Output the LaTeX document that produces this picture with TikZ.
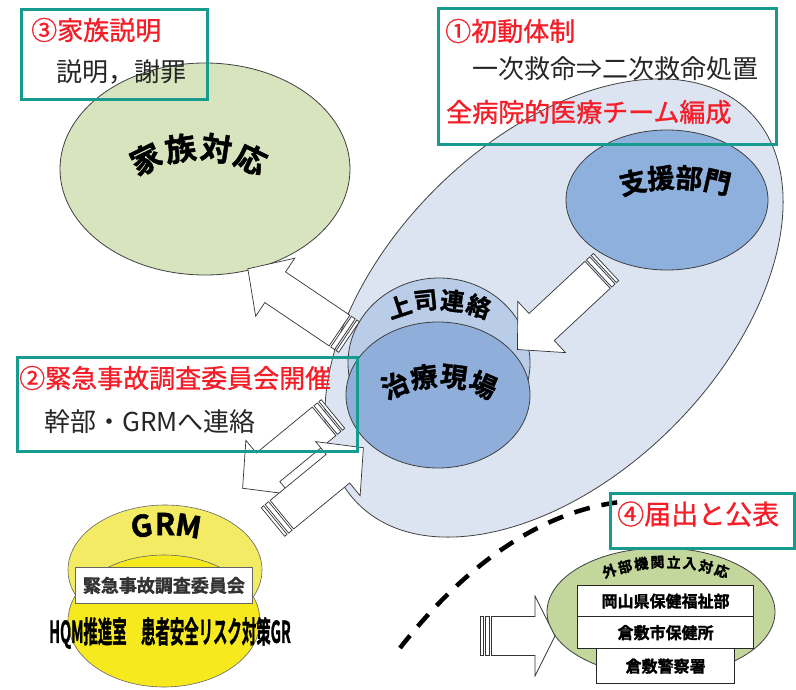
\documentclass[tikz,border=0pt]{standalone}
\usepackage{fontspec}
\setmainfont{Noto Sans CJK JP}
\newfontfamily\heavy{Noto Sans CJK JP}[UprightFont=* Bold, FakeBold=1.5]
\newfontfamily\jpred{Noto Sans CJK JP}[FakeBold=1]
\usetikzlibrary{shapes.geometric,calc}
\definecolor{tealc}{RGB}{23,155,142}
\definecolor{redc}{RGB}{245,30,40}
\definecolor{bigc}{RGB}{220,227,241}
\definecolor{sienc}{RGB}{141,176,221}
\definecolor{jouc}{RGB}{185,205,232}
\definecolor{chiryoc}{RGB}{143,174,218}
\definecolor{greena}{RGB}{215,228,189}
\definecolor{greenb}{RGB}{195,214,155}
\definecolor{yelup}{RGB}{243,235,100}
\definecolor{yellow2}{RGB}{246,233,30}
\tikzset{
  tealbox/.style={draw=tealc, line width=3pt, inner sep=0, anchor=north west},
  ell/.style={ellipse, draw=black!75, line width=0.8pt, inner sep=0},
  blk/.style={draw=black!80, fill=white, line width=0.7pt, line join=miter},
  redlbl/.style={text=redc, anchor=west, inner sep=0, font=\jpred\fontsize{26}{26}\selectfont},
  blklbl/.style={text=black!85, anchor=west, inner sep=0, font=\fontsize{26}{26}\selectfont},
  wbox/.style={draw=black!85, fill=white, line width=1.2pt, inner sep=0, anchor=north west},
}
\newcommand\archtext[7]{%
  \foreach \ch [count=\i] in {#7}{%
    \pgfmathsetmacro\archang{#4+(\i-1)*(#5)}%
    \node[inner sep=0, font=#6, rotate=-\archang] (#1\i) at ($(#2)+({(#3)*sin(\archang)},{-(#3)*cos(\archang)})$) {\ch};
  }}
\newcommand\stripedarrow[6]{%
  \begin{scope}[shift={(#1)}, rotate=#2]
    \draw[blk] (0,-#4) rectangle (3,#4);
    \draw[blk] (5,-#4) rectangle (9.5,#4);
    \draw[blk] (11.5,-#4) -- ({#3-#6},-#4) -- ({#3-#6},-#5) -- (#3,0) -- ({#3-#6},#5) -- ({#3-#6},#4) -- (11.5,#4) -- cycle;
  \end{scope}}
\begin{document}
\begin{tikzpicture}[x=1pt,y=-1pt]
\useasboundingbox (0,0) rectangle (796,690);

% big light ellipse
\node[ell, fill=bigc, minimum width=554, minimum height=336, rotate=45] (big) at (554,308) {};
% support dept
\node[ell, fill=sienc, minimum width=202, minimum height=140] (sien) at (667,200) {};
\archtext{sl}{675,366.5}{189}{-12.9}{8.6}{\heavy\fontsize{27}{27}\selectfont}{支,援,部,門}
% boss contact
\node[ell, fill=jouc, minimum width=182, minimum height=170] (jou) at (439,363) {};
\archtext{jl}{439,427}{127}{-18.3}{12.2}{\heavy\fontsize{24}{24}\selectfont}{上,司,連,絡}
% treatment site
\node[ell, fill=chiryoc, minimum width=184, minimum height=146] (chiryo) at (438,395) {};
\archtext{cl}{439,487}{111}{-23.4}{15.6}{\heavy\fontsize{27}{27}\selectfont}{治,療,現,場}
% family
\node[ell, fill=greena, minimum width=290, minimum height=212] (kazoku) at (205,169) {};
\archtext{kl}{198.5,267}{120}{-26}{17.3}{\heavy\fontsize{31}{31}\selectfont}{家,族,対,応}

% arrows
\coordinate (tA) at (349,337);
\coordinate (tB) at (606,267);
\coordinate (tD) at (333,414);
\coordinate (tE) at (273,522);
\stripedarrow{tA}{146}{122}{18.5}{35}{33}
\stripedarrow{tB}{223}{121}{18.5}{35}{33}
\stripedarrow{tD}{219.4}{117}{18.5}{35}{33}
\stripedarrow{tE}{39.4}{117}{18.5}{35}{33}

% GRM
\node[ellipse, draw=black!60, line width=0.6pt, fill=yelup, minimum width=194, minimum height=130, inner sep=0] (grmup) at (165,570) {};
\node[ellipse, draw=black!60, line width=0.6pt, fill=yellow2, minimum width=192, minimum height=132, inner sep=0] (grmlo) at (164,621) {};
\archtext{gl}{165,674}{150}{-9}{9}{\heavy\fontsize{30}{30}\selectfont}{G,R,M}
\node[draw=black!60, fill=white, line width=0.8pt, inner sep=0, anchor=north west, minimum width=177, minimum height=36] (iinkai) at (75,567) {};
\node[inner sep=0, font=\heavy\fontsize{18}{18}\selectfont, text=black!80] (iinkait) at (iinkai.center) {緊急事故調査委員会};
\node[inner sep=0, font=\heavy\fontsize{30}{30}\selectfont] (hqm) at (170,633) {\scalebox{0.48}[1]{HQM推進室　患者安全リスク対策GR}};

% dashed boundary
\coordinate (dsA) at (400,648);
\coordinate (dsB) at (620,502);
\draw[line width=4.5pt, dash pattern=on 16pt off 12pt] (dsA) .. controls (465,565) and (540,512) .. (dsB);

% external
\node[ell, fill=greenb, minimum width=228, minimum height=128] (gaibu) at (661,612) {};
\archtext{gb}{665.6,742}{180}{-18.2}{5.2}{\heavy\fontsize{14}{14}\selectfont}{外,部,機,関,立,入,対,応}
\node[wbox, minimum width=176, minimum height=31] (okayama) at (577,585) {};
\node[inner sep=0, font=\heavy\fontsize{16}{16}\selectfont] (okayamat) at (okayama.center) {岡山県保健福祉部};
\node[wbox, minimum width=176, minimum height=32] (hokenjo) at (577,616) {};
\node[inner sep=0, font=\heavy\fontsize{16}{16}\selectfont] (hokenjot) at (hokenjo.center) {倉敷市保健所};
\node[wbox, minimum width=138, minimum height=35] (keisatsu) at (596,648) {};
\node[inner sep=0, font=\heavy\fontsize{16}{16}\selectfont] (keisatsut) at (keisatsu.center) {倉敷警察署};
\coordinate (tF) at (480,636);
\stripedarrow{tF}{0}{75}{19.5}{40}{20}

% teal boxes
\node[tealbox, minimum width=186, minimum height=90] (b3) at (20,8) {};
\node[redlbl] (t3a) at (31,30) {③家族説明};
\node[blklbl] (t3b) at (56,72) {説明，謝罪};
\node[tealbox, minimum width=338, minimum height=136] (b1) at (437,7) {};
\node[redlbl] (t1a) at (445,31) {①初動体制};
\node[blklbl] (t1b) at (472,69) {一次救命⇒二次救命処置};
\node[redlbl] (t1c) at (446,112) {全病院的医療チーム編成};
\node[tealbox, minimum width=340, minimum height=94] (b2) at (16,356) {};
\node[redlbl] (t2a) at (19,378) {②緊急事故調査委員会開催};
\node[blklbl] (t2b) at (44,422) {幹部・GRMへ連絡};
\node[tealbox, minimum width=184, minimum height=55] (b4) at (609,492) {};
\node[redlbl, font=\jpred\fontsize{27}{27}\selectfont] (t4) at (617,514) {④届出と公表};
\end{tikzpicture}
\end{document}
